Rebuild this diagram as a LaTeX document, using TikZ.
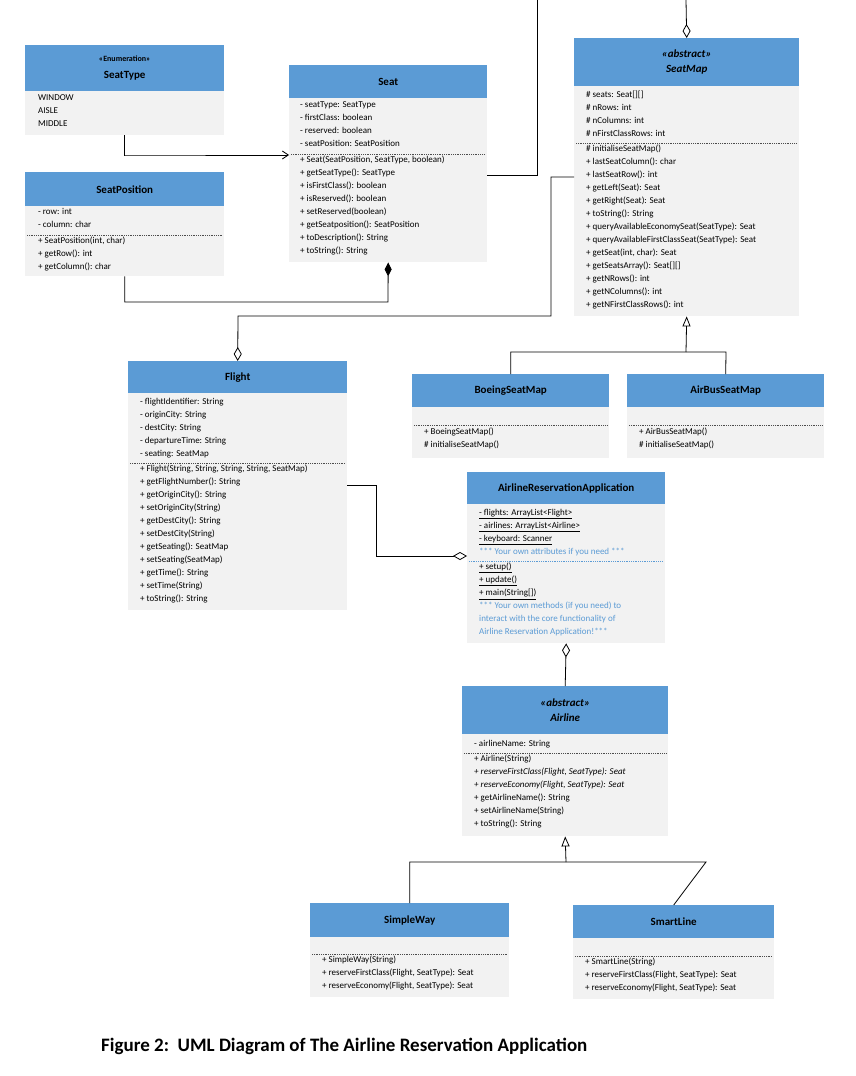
\documentclass[tikz,border=0pt]{standalone}
\usepackage{fontspec}
\setmainfont{Carlito}
\usetikzlibrary{arrows.meta}
\definecolor{hdrblue}{HTML}{5B9BD5}
\definecolor{bodygray}{HTML}{F2F2F2}
\definecolor{noteblue}{HTML}{5B9BD5}
\begin{document}
\begin{tikzpicture}[x=1pt,y=-1pt,
  hdr/.style={fill=hdrblue,draw=none,anchor=north west,inner sep=0,align=center,font=\bfseries\fontsize{11}{14}\selectfont},
  bdy/.style={fill=bodygray,draw=none,anchor=north west,inner sep=0},
  txt/.style={anchor=north west,inner sep=0,align=left,font=\fontsize{9}{13}\selectfont},
  sep/.style={densely dotted,line width=0.8pt,draw=black!70},
  conn/.style={line width=0.8pt},
  odia/.style={-{Diamond[open,length=14pt,width=8pt]}},
  fdia/.style={-{Diamond[length=14pt,width=7pt]}},
  tri/.style={-{Triangle[open,length=10pt,width=8pt]}},
  oarr/.style={-{Straight Barb[length=6pt,width=8pt]}}]
\useasboundingbox (0,0) rectangle (856,1076);
\fill[white] (0,0) rectangle (856,1076);

% SeatType
\node[bdy,minimum width=199,minimum height=90] (stB) at (25,45) {};
\node[hdr,minimum width=199,minimum height=46] (st) at (25,45) {\fontsize{8}{10}\selectfont <<Enumeration>>\\[3pt] SeatType};
\node[txt] (stT) at (38,94) {WINDOW\\AISLE\\MIDDLE};

% SeatPosition
\node[bdy,minimum width=199,minimum height=104] (spB) at (25,172) {};
\node[hdr,minimum width=199,minimum height=34] (sp) at (25,172) {SeatPosition};
\node[txt] (spT) at (38,208) {- row: int\\- column: char};
\draw[sep] (27,235) -- (222,235);
\node[txt] (spM) at (38,237) {+ SeatPosition(int, char)\\+ getRow(): int\\+ getColumn(): char};

% Seat
\node[bdy,minimum width=198,minimum height=197] (seatB) at (289,65) {};
\node[hdr,minimum width=198,minimum height=33] (seat) at (289,65) {Seat};
\node[txt] (seatT) at (300,101) {- seatType: SeatType\\- firstClass: boolean\\- reserved: boolean\\- seatPosition: SeatPosition};
\draw[sep] (291,154) -- (485,154);
\node[txt] (seatM) at (300,156) {+ Seat(SeatPosition, SeatType, boolean)\\+ getSeatType(): SeatType\\+ isFirstClass(): boolean\\+ isReserved(): boolean\\+ setReserved(boolean)\\+ getSeatposition(): SeatPosition\\+ toDescription(): String\\+ toString(): String};

% SeatMap
\node[bdy,minimum width=225,minimum height=278] (smB) at (574,38) {};
\node[hdr,minimum width=225,minimum height=48] (sm) at (574,38) {\itshape <<abstract>>\\[1pt]\itshape SeatMap};
\node[txt] (smT) at (586,91) {\# seats: Seat[][]\\\# nRows: int\\\# nColumns: int\\\# nFirstClassRows: int};
\draw[sep] (576,143) -- (797,143);
\node[txt] (smM) at (586,145) {\# initialiseSeatMap()\\+ lastSeatColumn(): char\\+ lastSeatRow(): int\\+ getLeft(Seat): Seat\\+ getRight(Seat): Seat\\+ toString(): String\\+ queryAvailableEconomySeat(SeatType): Seat\\+ queryAvailableFirstClassSeat(SeatType): Seat\\+ getSeat(int, char): Seat\\+ getSeatsArray(): Seat[][]\\+ getNRows(): int\\+ getNColumns(): int\\+ getNFirstClassRows(): int};

% BoeingSeatMap
\node[bdy,minimum width=197,minimum height=84] (bsB) at (412,374) {};
\node[hdr,minimum width=197,minimum height=33] (bs) at (412,374) {BoeingSeatMap};
\draw[sep] (414,425) -- (607,425);
\node[txt] (bsM) at (424,428) {+ BoeingSeatMap()\\\# initialiseSeatMap()};

% AirBusSeatMap
\node[bdy,minimum width=197,minimum height=84] (abB) at (627,374) {};
\node[hdr,minimum width=197,minimum height=33] (ab) at (627,374) {AirBusSeatMap};
\draw[sep] (629,425) -- (822,425);
\node[txt] (abM) at (639,428) {+ AirBusSeatMap()\\\# initialiseSeatMap()};

% Flight
\node[bdy,minimum width=219,minimum height=249] (flB) at (128,361) {};
\node[hdr,minimum width=219,minimum height=32] (fl) at (128,361) {Flight};
\node[txt] (flT) at (140,398) {- flightIdentifier: String\\- originCity: String\\- destCity: String\\- departureTime: String\\- seating: SeatMap};
\draw[sep] (130,463) -- (345,463);
\node[txt] (flM) at (140,465) {+ Flight(String, String, String, String, SeatMap)\\+ getFlightNumber(): String\\+ getOriginCity(): String\\+ setOriginCity(String)\\+ getDestCity(): String\\+ setDestCity(String)\\+ getSeating(): SeatMap\\+ setSeating(SeatMap)\\+ getTime(): String\\+ setTime(String)\\+ toString(): String};

% AirlineReservationApplication
\node[bdy,minimum width=198,minimum height=171] (araB) at (467,472) {};
\node[hdr,minimum width=198,minimum height=32] (ara) at (467,472) {AirlineReservationApplication};
\node[txt] (araT) at (479,509) {\underline{- flights: ArrayList<Flight>}\\\underline{- airlines: ArrayList<Airline>}\\\underline{- keyboard: Scanner}\\\textcolor{noteblue}{*** Your own attributes if you need ***}};
\draw[sep,draw=noteblue] (469,561) -- (663,561);
\node[txt] (araM) at (479,563) {\underline{+ setup()}\\\underline{+ update()}\\\underline{+ main(String[])}\\\textcolor{noteblue}{*** Your own methods (if you need) to}\\\textcolor{noteblue}{interact with the core functionality of}\\\textcolor{noteblue}{Airline Reservation Application!***}};

% Airline
\node[bdy,minimum width=206,minimum height=150] (alB) at (462,686) {};
\node[hdr,minimum width=206,minimum height=48] (al) at (462,686) {\itshape <<abstract>>\\[1pt]\itshape Airline};
\node[txt] (alT) at (474,740) {- airlineName: String};
\draw[sep] (464,753) -- (666,753);
\node[txt] (alM) at (474,755) {+ Airline(String)\\\textit{+ reserveFirstClass(Flight, SeatType): Seat}\\\textit{+ reserveEconomy(Flight, SeatType): Seat}\\+ getAirlineName(): String\\+ setAirlineName(String)\\+ toString(): String};

% SimpleWay
\node[bdy,minimum width=199,minimum height=94] (swB) at (310,903) {};
\node[hdr,minimum width=199,minimum height=34] (sw) at (310,903) {SimpleWay};
\draw[sep] (312,954) -- (507,954);
\node[txt] (swM) at (322,956) {+ SimpleWay(String)\\+ reserveFirstClass(Flight, SeatType): Seat\\+ reserveEconomy(Flight, SeatType): Seat};

% SmartLine
\node[bdy,minimum width=201,minimum height=94] (slB) at (573,905) {};
\node[hdr,minimum width=201,minimum height=33] (sl) at (573,905) {SmartLine};
\draw[sep] (575,956) -- (772,956);
\node[txt] (slM) at (585,958) {+ SmartLine(String)\\+ reserveFirstClass(Flight, SeatType): Seat\\+ reserveEconomy(Flight, SeatType): Seat};

% caption
\node[font=\bfseries\fontsize{19}{22}\selectfont,anchor=west,inner sep=0] (cap) at (101,1046) {Figure 2:\ \ UML Diagram of The Airline Reservation Application};

% connectors
\coordinate (topA) at (537,0);
\coordinate (topB) at (686,0);
\draw[conn,oarr] (stB.south) |- (125,155) -- (289,155);
\draw[conn,fdia] (spB.south) |- (388,302) -- (seatB.south);
\draw[conn] (487,175) -| (topA);
\draw[conn,odia] (topB) -- (sm.north);
\draw[conn,odia] (574,177) -- (551,177) |- (238,316) -- (fl.north);
\draw[conn] (bs.north) |- (726,352) -- (ab.north);
\draw[conn,tri] (686,352) -- (smB.south);
\draw[conn,odia] (347,485) -| (376,556) -- (467,556);
\draw[conn,odia] (al.north) -- (araB.south);
\draw[conn] (sw.north) |- (706,862) -- (sl.north);
\draw[conn,tri] (566,862) -- (alB.south);
\end{tikzpicture}
\end{document}
